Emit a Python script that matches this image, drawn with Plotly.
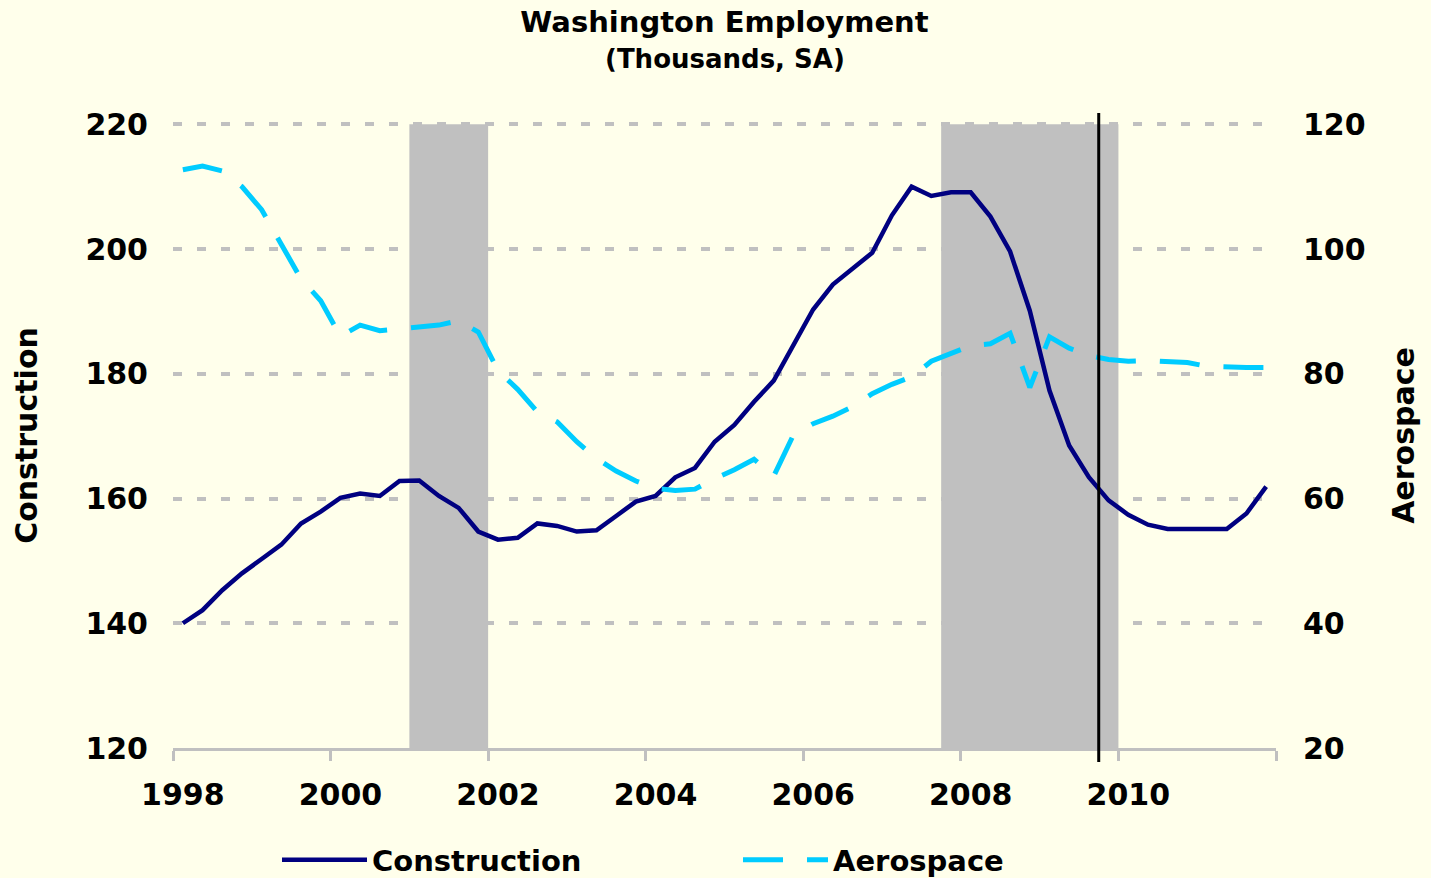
import plotly.graph_objects as go

# Quarterly data, 1998Q1 .. 2011Q4
years = list(range(1998, 2012))
quarters = [f"{y}Q{q}" for y in years for q in range(1, 5)]

construction = [
    140.0, 142.1, 145.3, 148.0, 150.3, 152.6, 156.0, 157.9,   # 1998-1999
    160.1, 160.8, 160.4, 162.8, 162.9, 160.4, 158.5, 154.7,   # 2000-2001
    153.4, 153.7, 156.0, 155.6, 154.7, 154.9, 157.2, 159.5,   # 2002-2003
    160.4, 163.4, 164.9, 169.1, 171.8, 175.5, 178.9, 184.5,   # 2004-2005
    190.3, 194.3, 196.8, 199.4, 205.4, 210.0, 208.5, 209.1,   # 2006-2007
    209.1, 205.2, 199.6, 190.1, 177.3, 168.5, 163.4, 159.7,   # 2008-2009
    157.4, 155.8, 155.1, 155.1, 155.1, 155.1, 157.6, 161.9,   # 2010-2011
]

aerospace = [
    112.7, 113.3, 112.5, 110.0, 106.3, 100.6, 95.2, 91.7,     # 1998-1999
    86.0, 87.8, 86.9, 87.2, 87.5, 87.8, 88.5, 86.7,           # 2000-2001
    80.5, 77.5, 73.9, 72.3, 69.1, 66.4, 64.4, 62.8,           # 2002-2003
    61.6, 61.3, 61.5, 63.2, 64.6, 66.3, 63.6, 70.2,           # 2004-2005
    72.0, 73.2, 74.7, 76.8, 78.3, 79.5, 82.0, 83.2,           # 2006-2007
    84.5, 84.8, 86.5, 77.8, 85.9, 84.1, 82.9, 82.3,           # 2008-2009
    82.0, 82.1, 82.0, 81.8, 81.2, 81.0, 81.0, 81.0,           # 2010-2011
]

tick_years = ["1998", "2000", "2002", "2004", "2006", "2008", "2010"]
left_ticks = [120, 140, 160, 180, 200, 220]
right_ticks = [20, 40, 60, 80, 100, 120]

# Recessions as (first quarter, last quarter)
recessions = [("2001Q1", "2001Q4"), ("2007Q4", "2009Q4")]
marker_between = ("2009Q3", "2009Q4")

x = list(range(len(quarters)))
idx = {q: i for i, q in enumerate(quarters)}

FONT = "DejaVu Sans"
BG = "#FFFFEB"
GRAY = "#C0C0C0"
W, H = 1431, 878
ML, MR, MT, MB = 173, 155, 123, 130
PH = H - MT - MB
PW = W - ML - MR
TOP_PAD = 0.2  # small headroom so the top gridline is drawn


def py(px):
    """pixel row -> paper y"""
    return (H - MB - px) / PH


def pxx(px):
    """pixel column -> paper x"""
    return (px - ML) / PW


fig = go.Figure()
fig.add_trace(go.Scatter(
    x=x, y=construction, name="Construction", mode="lines",
    line=dict(color="#000080", width=4.5),
    text=quarters, legend="legend", yaxis="y",
))
fig.add_trace(go.Scatter(
    x=x, y=aerospace, name="Aerospace", mode="lines",
    line=dict(color="#00CCFF", width=5, dash="40px,24px"),
    text=quarters, legend="legend2", yaxis="y2",
))

for a, b in recessions:
    fig.add_shape(type="rect", xref="x", yref="y",
                  x0=idx[a] - 0.5, x1=idx[b] + 0.5, y0=left_ticks[0], y1=left_ticks[-1],
                  fillcolor=GRAY, line=dict(width=0), layer="between")

mx = (idx[marker_between[0]] + idx[marker_between[1]]) / 2
fig.add_shape(type="line", xref="x", yref="paper", x0=mx, x1=mx, y0=py(762), y1=py(113),
              line=dict(color="black", width=3), layer="above")

fig.add_annotation(text="(Thousands, SA)", xref="paper", yref="paper",
                   x=0.5, y=py(58.5), xanchor="center", yanchor="middle", showarrow=False,
                   font=dict(family=FONT, size=26, color="black", weight="bold"))

year_pos = [idx[y + "Q1"] for y in tick_years]
boundaries = [i - 0.5 for i in range(0, len(quarters) + 1, 8)]

fig.update_layout(
    width=W, height=H,
    paper_bgcolor=BG, plot_bgcolor=BG,
    margin=dict(l=ML, r=MR, t=MT, b=MB, autoexpand=False),
    font=dict(family=FONT, color="black", weight="bold"),
    title=dict(
        text="Washington Employment",
        x=0.5, xref="paper", xanchor="center",
        y=1 - 22 / H, yref="container", yanchor="middle",
        font=dict(family=FONT, size=29, color="black", weight="bold"),
    ),
    xaxis=dict(
        range=[-0.5, len(quarters) - 0.5],
        tickmode="array", tickvals=year_pos, ticktext=tick_years,
        ticks="", showgrid=False, zeroline=False,
        showline=True, linecolor=GRAY, linewidth=3,
        tickfont=dict(family=FONT, size=30, color="black", weight="bold"),
        ticklabelstandoff=18,
        minor=dict(tickmode="array", tickvals=boundaries, ticks="outside",
                   ticklen=10, tickwidth=3, tickcolor=GRAY, showgrid=False),
    ),
    yaxis=dict(
        range=[left_ticks[0], left_ticks[-1] + TOP_PAD], tickmode="array", tickvals=left_ticks,
        showgrid=True, gridcolor=GRAY, gridwidth=4, griddash="9px,15px",
        zeroline=False, showline=False, ticks="",
        tickfont=dict(family=FONT, size=30, color="black", weight="bold"),
        ticklabelstandoff=24,
        title=dict(text="Construction", standoff=38,
                   font=dict(family=FONT, size=30, color="black", weight="bold")),
    ),
    yaxis2=dict(
        range=[right_ticks[0], right_ticks[-1] + TOP_PAD], tickmode="array", tickvals=right_ticks,
        overlaying="y", side="right", showgrid=False, zeroline=False,
        showline=False, ticks="",
        tickfont=dict(family=FONT, size=30, color="black", weight="bold"),
        ticklabelstandoff=26,
        title=dict(text="Aerospace", standoff=28,
                   font=dict(family=FONT, size=30, color="black", weight="bold")),
    ),
    legend=dict(orientation="h", x=pxx(277), xanchor="left", itemwidth=85,
                y=py(860), yanchor="middle", bgcolor="rgba(0,0,0,0)",
                font=dict(family=FONT, size=29, color="black", weight="bold")),
    legend2=dict(orientation="h", x=pxx(738), xanchor="left", itemwidth=85,
                 y=py(860), yanchor="middle", bgcolor="rgba(0,0,0,0)",
                 font=dict(family=FONT, size=29, color="black", weight="bold")),
    showlegend=True,
)

fig.write_html("out.html", config={"displayModeBar": False},
               post_script="document.body.style.margin='0px';")
